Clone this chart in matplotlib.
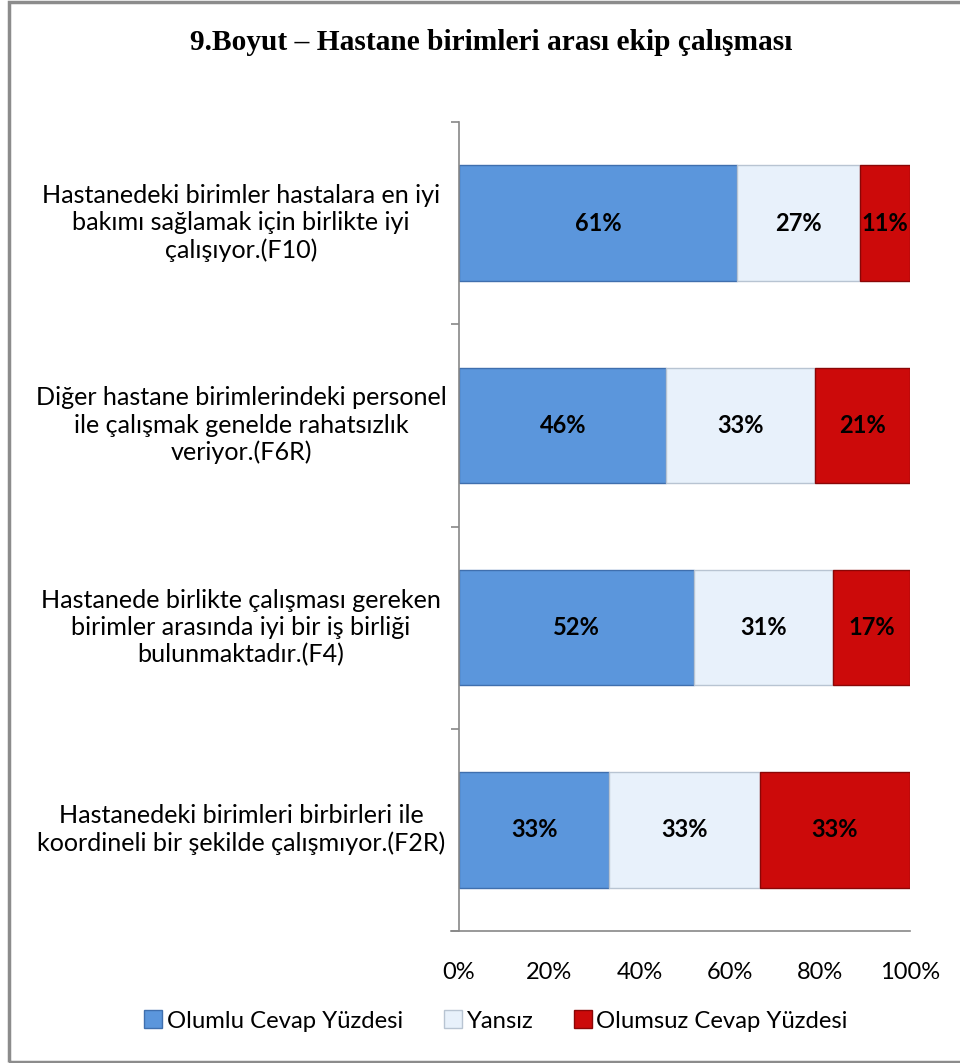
import matplotlib
matplotlib.use("Agg")
import matplotlib.pyplot as plt
from matplotlib.patches import Rectangle
import numpy as np

categories = [
    "Hastanedeki birimler hastalara en iyi\nbakımı sağlamak için birlikte iyi\nçalışıyor.(F10)",
    "Diğer hastane birimlerindeki personel\nile çalışmak genelde rahatsızlık\nveriyor.(F6R)",
    "Hastanede birlikte çalışması gereken\nbirimler arasında iyi bir iş birliği\nbulunmaktadır.(F4)",
    "Hastanedeki birimleri birbirleri ile\nkoordineli bir şekilde çalışmıyor.(F2R)",
]
olumlu = [61, 46, 52, 33]
yansiz = [27, 33, 31, 33]
olumsuz = [11, 21, 17, 33]
series_names = ["Olumlu Cevap Yüzdesi", "Yansız", "Olumsuz Cevap Yüzdesi"]
colors = ["#5b96dc", "#e8f1fb", "#cc0a0a"]
edge_colors = ["#3f6fae", "#b8c4d2", "#8a0606"]
xticks = [0, 20, 40, 60, 80, 100]

plt.rcParams['font.family'] = ['Lato', 'DejaVu Sans']

fig = plt.figure(figsize=(9.6, 10.63), dpi=100)
W, H = 960, 1063
ax = fig.add_axes([459 / W, 1 - 931 / H, (910 - 459) / W, (931 - 122) / H])

data = np.array([olumlu, yansiz, olumsuz], dtype=float)
data = data / data.sum(axis=0) * 100
n = len(categories)
ypos = np.arange(n)[::-1]
left = np.zeros(n)
raws = [olumlu, yansiz, olumsuz]
for i in range(3):
    ax.barh(ypos, data[i], left=left, height=0.57, color=colors[i],
            edgecolor=edge_colors[i], linewidth=1.0, label=series_names[i])
    for j in range(n):
        ax.text(left[j] + data[i][j] / 2, ypos[j], f"{raws[i][j]}%", ha="center",
                va="center", fontsize=17, fontweight="bold", color="black")
    left = left + data[i]

ax.set_xlim(0, 100)
ax.set_ylim(-0.5, n - 0.5)
ax.set_xticks(xticks)
ax.set_xticklabels([f"{t}%" for t in xticks], fontsize=17)
ax.tick_params(axis="x", length=0, pad=22)
ax.set_yticks(np.arange(-0.5, n, 1.0))
ax.set_yticklabels([])
ax.tick_params(axis="y", length=6, color="#888888", direction="out", width=1.2)

fig.canvas.draw()
for j in range(n):
    fig.text(241 / W, ax.transData.transform((0, ypos[j]))[1] / H, categories[j],
             ha="center", va="center", fontsize=18.1, linespacing=1.22)
for s in ["top", "right"]:
    ax.spines[s].set_visible(False)
ax.spines["left"].set_color("#888888")
ax.spines["left"].set_linewidth(1.2)
ax.spines["bottom"].set_color("#888888")
ax.spines["bottom"].set_linewidth(1.2)
ax.spines["bottom"].set_bounds(-1.8, 100)

fig.text(491 / W, 1 - 42 / H, "9.Boyut – Hastane birimleri arası ekip çalışması",
         ha="center", va="center", fontsize=21.2, fontweight="bold",
         family=["Liberation Serif", "DejaVu Serif"])

fig.legend(loc="center", bbox_to_anchor=(496 / W, 1 - 1021 / H), ncol=3,
           frameon=False, fontsize=17.2, handlelength=0.75, handleheight=0.75,
           handletextpad=0.2, columnspacing=1.7)

fig.patches.append(Rectangle((9 / W, 1 / H), 1.2, (1061 - 1) / H,
                             transform=fig.transFigure, fill=False,
                             edgecolor="#8c8c8c", linewidth=2.5))

fig.savefig("out.png", dpi=100)
